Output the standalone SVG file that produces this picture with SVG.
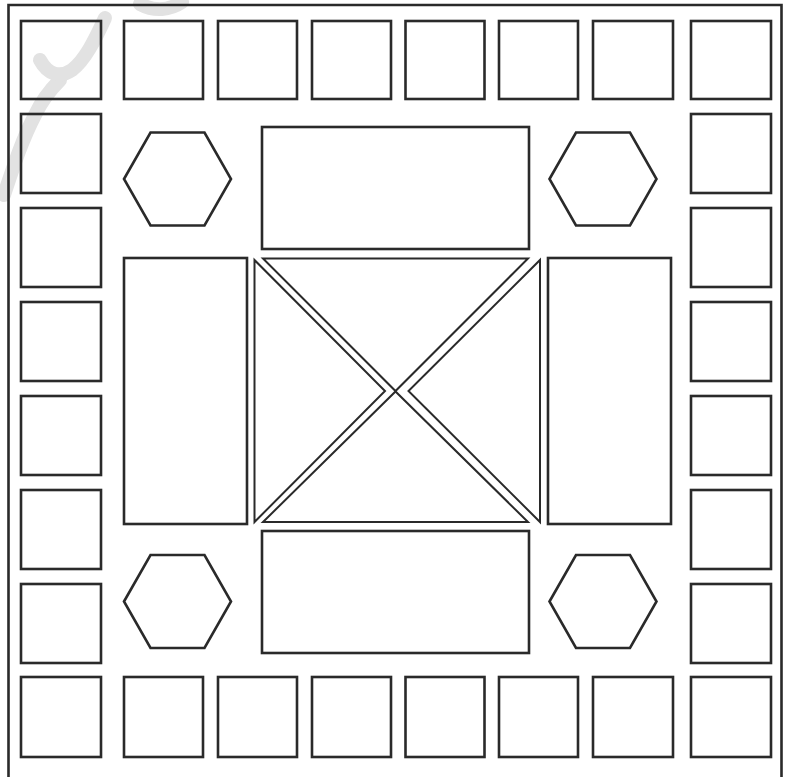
<svg xmlns="http://www.w3.org/2000/svg" width="785" height="777" viewBox="0 0 785 777">
<style>
.s{fill:none;stroke:#2a2a2a;stroke-width:2.6}
.t{fill:none;stroke:#2a2a2a;stroke-width:2;stroke-linejoin:miter}
.wm{fill:none;stroke:#e2e2e2;stroke-width:14;stroke-linecap:round}
</style>
<rect width="785" height="777" fill="#fff"/>
<g id="watermark">
<path class="wm" d="M4 195 C14 165 22 140 35 115 C42 100 50 90 60 80"/>
<path class="wm" d="M40 60 C48 75 60 78 72 70 C85 60 95 40 105 18"/>
<path class="wm" d="M140 4 C155 12 170 10 182 2"/>
</g>
<g id="frame"><path class="s" d="M8.5 777 V5 H781.5 V777"/></g>
<g id="top-row">
<rect class="s" x="21" y="21" width="80" height="78"/>
<rect class="s" x="124" y="21" width="79" height="78"/>
<rect class="s" x="218" y="21" width="79" height="78"/>
<rect class="s" x="312" y="21" width="79" height="78"/>
<rect class="s" x="405.5" y="21" width="79" height="78"/>
<rect class="s" x="499" y="21" width="79" height="78"/>
<rect class="s" x="593" y="21" width="80" height="78"/>
<rect class="s" x="691" y="21" width="80" height="78"/>
</g>
<g id="bottom-row">
<rect class="s" x="21" y="677" width="80" height="80"/>
<rect class="s" x="124" y="677" width="79" height="80"/>
<rect class="s" x="218" y="677" width="79" height="80"/>
<rect class="s" x="312" y="677" width="79" height="80"/>
<rect class="s" x="405.5" y="677" width="79" height="80"/>
<rect class="s" x="499" y="677" width="79" height="80"/>
<rect class="s" x="593" y="677" width="80" height="80"/>
<rect class="s" x="691" y="677" width="80" height="80"/>
</g>
<g id="left-column">
<rect class="s" x="21" y="114" width="80" height="79"/>
<rect class="s" x="21" y="208" width="80" height="79"/>
<rect class="s" x="21" y="302" width="80" height="79"/>
<rect class="s" x="21" y="396" width="80" height="79"/>
<rect class="s" x="21" y="490" width="80" height="79"/>
<rect class="s" x="21" y="584" width="80" height="79"/>
</g>
<g id="right-column">
<rect class="s" x="691" y="114" width="80" height="79"/>
<rect class="s" x="691" y="208" width="80" height="79"/>
<rect class="s" x="691" y="302" width="80" height="79"/>
<rect class="s" x="691" y="396" width="80" height="79"/>
<rect class="s" x="691" y="490" width="80" height="79"/>
<rect class="s" x="691" y="584" width="80" height="79"/>
</g>
<g id="hexagons">
<polygon class="s" points="124,179 150.5,132.5 204.5,132.5 231,179 204.5,225.5 150.5,225.5"/>
<polygon class="s" points="549.5,179 576,132.5 630,132.5 656.5,179 630,225.5 576,225.5"/>
<polygon class="s" points="124,601.5 150.5,555 204.5,555 231,601.5 204.5,648 150.5,648"/>
<polygon class="s" points="549.5,601.5 576,555 630,555 656.5,601.5 630,648 576,648"/>
</g>
<g id="top-rect"><rect class="s" x="262" y="127" width="267" height="122"/></g>
<g id="bottom-rect"><rect class="s" x="262" y="531" width="267" height="122"/></g>
<g id="left-rect"><rect class="s" x="124" y="258" width="123" height="266"/></g>
<g id="right-rect"><rect class="s" x="548" y="258" width="123" height="266"/></g>
<g id="center">
<polygon class="t" points="263,258.5 528,258.5 395.5,391"/>
<polygon class="t" points="263,522 528,522 395.5,391.5"/>
<polygon class="t" points="254.5,260 254.5,522 385,391"/>
<polygon class="t" points="540,260 540,522 408.5,391"/>
</g>
</svg>
